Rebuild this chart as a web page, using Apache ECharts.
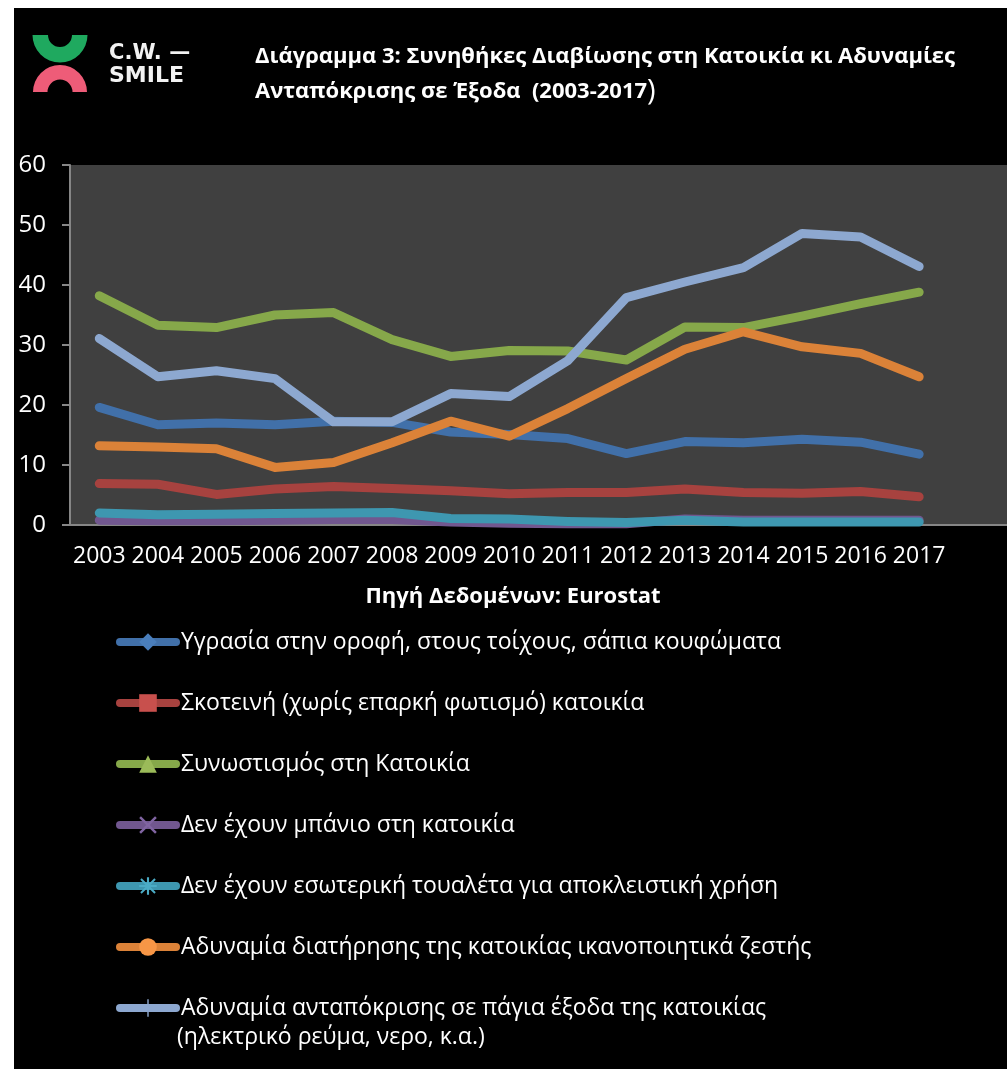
<!DOCTYPE html>
<html>
<head>
<meta charset="utf-8">
<script src="https://cdn.jsdelivr.net/npm/echarts@6/dist/echarts.min.js"></script>
<style>
  html, body { margin: 0; padding: 0; background: #fff; overflow: hidden; width: 1007px; height: 1069px; }
  .sheet { position: absolute; left: 14px; top: 8px; width: 993px; height: 1061px; background: #000; }
  #chart { position: absolute; left: 0; top: 0; width: 1007px; height: 1140px; }
</style>
</head>
<body>
<div class="sheet"></div>
<div id="chart"></div>
<script>
  // years on the x axis
  const years = ['2003', '2004', '2005', '2006', '2007', '2008', '2009', '2010',
    '2011', '2012', '2013', '2014', '2015', '2016', '2017']
  const yTicks = [0, 10, 20, 30, 40, 50, 60]

  // values (%)
  const dampness = [19.6, 16.7, 17.0, 16.7, 17.3, 17.1, 15.5, 15.1, 14.4, 11.9, 13.9, 13.7, 14.3, 13.8, 11.8]
  const darkness = [6.9, 6.8, 5.1, 6.0, 6.4, 6.1, 5.7, 5.2, 5.4, 5.4, 6.0, 5.4, 5.3, 5.6, 4.7]
  const overcrowding = [38.2, 33.3, 32.9, 35.0, 35.4, 30.9, 28.1, 29.1, 29.0, 27.5, 33.0, 32.9, 34.8, 36.9, 38.8]
  const noBath = [0.8, 0.7, 0.7, 0.8, 0.9, 0.9, 0.5, 0.3, 0.2, 0.2, 1.0, 0.8, 0.8, 0.8, 0.8]
  const noToilet = [2.0, 1.7, 1.8, 1.9, 2.0, 2.1, 1.1, 1.0, 0.6, 0.4, 0.8, 0.5, 0.5, 0.5, 0.5]
  const noWarmth = [13.2, 13.0, 12.7, 9.6, 10.4, 13.7, 17.3, 14.8, 19.4, 24.4, 29.3, 32.2, 29.7, 28.6, 24.7]
  const arrears = [31.1, 24.7, 25.7, 24.4, 17.2, 17.2, 21.9, 21.4, 27.4, 37.9, 40.5, 42.9, 48.6, 48.0, 43.1]

  const seriesNames = [
    'Υγρασία στην οροφή, στους τοίχους, σάπια κουφώματα',
    'Σκοτεινή (χωρίς επαρκή φωτισμό) κατοικία',
    'Συνωστισμός στη Κατοικία',
    'Δεν έχουν μπάνιο στη κατοικία',
    'Δεν έχουν εσωτερική τουαλέτα για αποκλειστική χρήση',
    'Αδυναμία διατήρησης της κατοικίας ικανοποιητικά ζεστής',
    'Αδυναμία ανταπόκρισης σε πάγια έξοδα της κατοικίας\n(ηλεκτρικό ρεύμα, νερο, κ.α.)'
  ]
  const seriesData = [dampness, darkness, overcrowding, noBath, noToilet, noWarmth, arrears]
  const lineColors = ['#4170a9', '#a7423f', '#86a84a', '#71578f', '#3e97b0', '#db8238', '#8da8d0']
  const markColors = ['#4a7ebb', '#c8504d', '#9bbb59', '#8064a2', '#4bacc6', '#f79646', '#8da8d0']
  const symbols = [
    'diamond',
    'rect',
    'triangle',
    'path://M0,1 L1,0 L5,4 L9,0 L10,1 L6,5 L10,9 L9,10 L5,6 L1,10 L0,9 L4,5 Z',
    'path://M4.4,0 H5.6 V3.6 L8.6,0.6 L9.4,1.4 L6.4,4.4 H10 V5.6 H6.4 L9.4,8.6 L8.6,9.4 L5.6,6.4 V10 H4.4 V6.4 L1.4,9.4 L0.6,8.6 L3.6,5.6 H0 V4.4 H3.6 L0.6,1.4 L1.4,0.6 L4.4,3.6 Z',
    'circle',
    'path://M4.6,0 H5.4 V4.6 H10 V5.4 H5.4 V10 H4.6 V5.4 H0 V4.6 H4.6 Z'
  ]

  const font = '"Open Sans", "Noto Sans", sans-serif'
  const chart = echarts.init(document.getElementById('chart'))

  const series = seriesNames.map((name, i) => ({
    name: name,
    type: 'line',
    data: seriesData[i],
    symbol: symbols[i],
    showSymbol: false,
    silent: true,
    itemStyle: { color: markColors[i] },
    lineStyle: { color: lineColors[i], width: 9, cap: 'round', join: 'round' }
  }))

  // the long legend name wraps; icon sits on its first line like in Excel
  const wrapLine = seriesNames[seriesNames.length - 1].split('\n')[1]

  const option = {
    animation: false,
    textStyle: { fontFamily: font },
    title: [{
      left: 255,
      top: 39,
      padding: 0,
      text: 'Διάγραμμα 3: Συνηθήκες Διαβίωσης στη Κατοικία κι Αδυναμίες\nΑνταπόκρισης σε Έξοδα  (2003-2017{p|)}',
      textStyle: {
        color: '#fff',
        fontFamily: font,
        fontWeight: 'bold',
        fontSize: 22,
        lineHeight: 35,
        rich: { p: { fontSize: 29, fontWeight: 'normal', color: '#fff', fontFamily: font, lineHeight: 35 } }
      }
    }],
    grid: {
      left: 70,
      top: 165,
      width: 944,
      height: 360,
      show: true,
      backgroundColor: '#404040',
      borderWidth: 0
    },
    xAxis: {
      type: 'category',
      data: years.concat(['']),
      boundaryGap: true,
      axisLine: { lineStyle: { color: '#868686', width: 2 } },
      axisTick: { show: false },
      axisLabel: { color: '#fff', fontSize: 23, margin: 20, interval: 0 },
      splitLine: { show: false }
    },
    yAxis: {
      type: 'value',
      min: yTicks[0],
      max: yTicks[yTicks.length - 1],
      interval: 10,
      axisLine: { show: true, lineStyle: { color: '#868686', width: 2 } },
      axisTick: { show: true, length: 8, lineStyle: { color: '#868686', width: 2 } },
      axisLabel: { color: '#fff', fontSize: 24, margin: 24 },
      splitLine: { show: false }
    },
    legend: {
      orient: 'vertical',
      left: 116,
      top: 627,
      padding: 0,
      itemWidth: 56,
      itemHeight: 22,
      itemGap: 31,
      selectedMode: false,
      lineStyle: { width: 8, cap: 'round' },
      textStyle: { color: '#fff', fontSize: 23, lineHeight: 30, fontFamily: font },
      formatter: name => name.split('\n')[0],
      data: seriesNames
    },
    graphic: [
      { type: 'sector', shape: { cx: 60, cy: 35, r: 27.5, r0: 12, startAngle: 0, endAngle: Math.PI }, style: { fill: '#1fa95f' } },
      { type: 'sector', shape: { cx: 60, cy: 92, r: 27, r0: 12.5, startAngle: Math.PI, endAngle: Math.PI * 2 }, style: { fill: '#ee5c78' } },
      { type: 'text', left: 109, top: 43, style: { text: 'C.W. —', fill: '#f2f2f2', font: 'bold 21px "DejaVu Sans", sans-serif' } },
      { type: 'text', left: 109, top: 65, style: { text: 'SMILE', fill: '#f2f2f2', font: 'bold 22px "DejaVu Sans", sans-serif' } },
      { type: 'text', x: 513, y: 597, style: { text: 'Πηγή Δεδομένων: Eurostat', fill: '#fff', font: 'bold 22px ' + font, align: 'center', verticalAlign: 'middle' } },
      { type: 'text', x: 177, y: 1037, style: { text: wrapLine, fill: '#fff', font: '23px ' + font, align: 'left', verticalAlign: 'middle' } }
    ],
    series: series
  }

  chart.setOption(option)
</script>
</body>
</html>
